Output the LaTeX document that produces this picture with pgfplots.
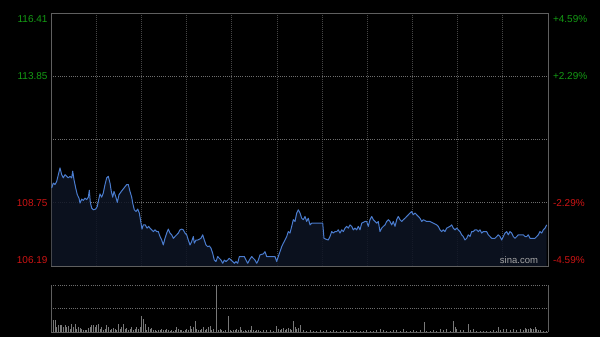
\documentclass[border=0pt]{standalone}
\usepackage{pgfplots}
\pgfplotsset{compat=1.18}
\usepackage{pgfplotstable}
\usepackage{fontspec}
\setmainfont{Liberation Sans}
\definecolor{sgreen}{RGB}{20,155,20}
\definecolor{sred}{RGB}{205,20,20}
\definecolor{sline}{RGB}{74,124,206}
\definecolor{sfill}{RGB}{14,20,36}
\definecolor{sborder}{RGB}{95,95,95}
\definecolor{sgridv}{RGB}{70,70,70}
\definecolor{sgridh}{RGB}{110,110,110}
\definecolor{svol}{RGB}{120,120,120}
\definecolor{swm}{RGB}{165,165,165}

\pgfplotstableread{
x p
0.7 109.34
2.3 109.54
4.0 109.48
5.7 109.61
9.0 110.15
10.7 109.88
12.3 109.75
14.0 109.88
15.7 109.81
17.3 109.75
19.0 109.81
20.7 109.75
21.7 110.02
23.0 109.68
24.7 109.34
26.3 109.07
28.0 108.93
29.0 108.73
30.7 108.89
32.3 108.84
34.0 108.93
35.7 108.87
37.3 108.97
38.3 109.25
39.3 108.76
40.7 108.53
42.3 108.46
44.7 108.49
46.3 108.60
47.7 108.87
49.0 109.10
50.7 108.97
52.3 109.14
54.0 109.48
55.7 109.75
57.3 109.81
59.0 109.54
60.3 109.20
61.7 108.97
63.0 109.20
64.7 109.00
66.3 108.76
68.0 109.07
70.3 109.20
73.0 109.34
75.7 109.48
77.3 109.48
79.0 109.20
80.7 108.97
81.7 108.73
83.3 108.46
85.0 108.39
86.7 108.49
88.3 108.33
90.0 107.92
91.0 107.68
92.3 107.85
94.3 107.85
96.0 107.72
97.7 107.79
99.0 107.72
100.7 107.65
102.3 107.58
104.0 107.65
105.7 107.58
107.3 107.58
109.0 107.38
110.7 107.24
112.3 107.04
114.0 107.31
115.7 107.52
117.3 107.68
119.0 107.52
120.7 107.45
122.3 107.31
124.0 107.38
125.7 107.45
127.3 107.52
129.0 107.65
130.7 107.68
132.3 107.65
134.0 107.52
135.7 107.45
137.3 107.24
139.0 107.04
140.7 107.18
142.3 107.38
143.3 107.11
145.0 107.24
146.7 107.24
148.3 107.27
150.0 107.31
151.7 107.45
153.3 107.24
155.0 107.04
156.7 106.97
158.3 107.00
160.0 106.91
161.7 106.70
163.3 106.43
165.0 106.37
166.7 106.57
168.3 106.50
170.0 106.43
171.7 106.30
173.3 106.43
175.0 106.37
176.7 106.43
178.3 106.50
180.0 106.43
181.7 106.37
183.3 106.30
185.0 106.37
186.7 106.30
188.3 106.57
190.0 106.57
193.3 106.57
195.0 106.43
196.7 106.30
198.3 106.43
200.7 106.57
202.3 106.50
204.0 106.43
205.7 106.30
207.3 106.43
209.0 106.64
210.7 106.66
212.3 106.68
214.0 106.77
215.7 106.57
217.3 106.57
220.7 106.57
224.0 106.57
225.7 106.37
227.3 106.57
229.0 106.77
230.7 106.97
232.3 107.11
234.0 107.24
235.7 107.38
237.3 107.58
239.0 107.52
240.7 107.79
242.3 108.06
244.0 107.99
245.7 108.33
247.3 108.46
249.0 108.33
250.7 108.12
252.3 108.06
254.0 108.19
255.7 107.99
257.3 108.12
259.0 107.85
260.7 107.92
262.3 107.92
271.7 107.92
273.0 107.31
275.0 107.27
277.3 107.24
279.0 107.38
280.7 107.58
282.3 107.52
284.0 107.58
285.7 107.58
287.3 107.65
289.0 107.52
290.7 107.65
292.3 107.58
294.0 107.72
295.7 107.79
297.3 107.72
299.0 107.85
300.7 107.79
302.3 107.65
304.0 107.72
305.7 107.65
307.3 107.79
309.0 107.65
310.7 107.92
314.0 107.99
315.7 107.99
317.3 107.79
319.0 108.06
320.7 108.19
322.3 108.06
324.0 107.99
325.7 107.92
327.3 107.99
329.0 107.58
330.7 107.72
332.3 107.79
334.0 107.85
335.7 107.99
337.3 108.06
339.0 107.99
340.7 107.85
342.3 107.99
344.0 107.79
345.7 108.06
347.3 108.19
349.0 108.06
350.7 107.99
352.3 108.06
354.0 108.12
355.7 108.19
357.3 108.26
359.0 108.33
360.7 108.39
362.3 108.26
364.0 108.33
365.7 108.26
367.3 108.19
369.0 108.12
370.7 107.99
372.3 108.06
375.7 107.99
379.0 107.99
382.3 107.92
385.7 107.85
387.3 107.79
389.0 107.65
390.7 107.58
392.3 107.65
394.0 107.58
395.7 107.72
399.0 107.79
400.7 107.85
402.3 107.72
404.0 107.65
405.7 107.72
407.3 107.65
409.0 107.58
410.7 107.45
412.3 107.38
414.0 107.24
415.7 107.31
417.3 107.45
419.0 107.38
420.7 107.58
422.3 107.58
424.0 107.65
425.7 107.65
427.3 107.58
429.0 107.65
430.7 107.52
432.3 107.58
435.7 107.58
437.3 107.45
439.0 107.38
440.7 107.31
444.0 107.31
445.7 107.38
447.3 107.45
449.0 107.38
450.7 107.24
452.3 107.38
454.0 107.52
455.7 107.58
457.3 107.45
459.0 107.58
460.7 107.52
462.3 107.38
464.0 107.31
465.7 107.38
467.3 107.45
472.3 107.45
474.0 107.38
475.7 107.38
477.3 107.45
479.0 107.31
484.0 107.31
485.7 107.38
487.3 107.45
489.0 107.58
490.7 107.52
492.3 107.65
494.0 107.72
495.7 107.85
}\pricetable

\pgfplotstableread{
x v
155 68
160 37
165 37
170 15
175 20
180 20
185 22
190 15
195 20
200 15
205 17
210 10
215 23
220 15
225 25
230 10
235 15
240 13
245 10
250 5
255 7
260 5
265 13
270 15
275 20
280 22
285 15
290 20
295 23
300 10
305 15
310 7
315 10
320 20
325 15
330 7
335 10
340 13
345 10
350 7
355 23
360 10
365 15
370 23
375 10
380 13
385 7
390 10
395 15
400 5
405 10
410 15
415 10
420 15
425 47
430 40
435 25
440 5
445 15
450 10
455 13
460 5
465 7
470 3
475 5
480 7
485 10
490 7
495 5
500 10
505 5
510 3
515 7
520 3
525 5
530 15
535 10
540 7
545 5
550 3
555 5
560 10
565 5
570 17
575 10
580 15
585 32
590 10
595 5
600 7
605 10
610 15
615 7
620 10
625 15
630 17
635 7
640 10
648 140
655 7
660 10
665 5
670 3
675 5
685 47
690 5
695 3
700 5
705 7
710 10
715 5
720 15
725 7
730 3
735 5
740 3
745 5
750 7
755 17
760 5
765 3
770 5
775 7
780 3
790 5
800 7
810 5
820 3
830 17
835 10
840 5
845 10
850 13
855 7
860 10
865 13
870 10
875 7
880 33
885 15
890 10
895 13
900 20
910 5
920 3
930 5
940 4
950 3
960 5
970 3
980 6
990 4
1000 5
1010 3
1020 4
1030 5
1040 3
1050 5
1060 3
1070 4
1080 4
1090 3
1100 5
1110 4
1120 3
1130 5
1140 8
1150 5
1160 4
1170 3
1180 5
1190 7
1200 3
1210 8
1220 4
1230 3
1240 5
1250 3
1260 5
1272 30
1280 3
1290 4
1300 5
1310 3
1320 8
1330 6
1340 10
1350 3
1360 33
1365 15
1370 8
1380 5
1390 6
1405 25
1410 5
1420 8
1430 3
1440 4
1450 3
1460 4
1470 3
1480 5
1490 4
1495 15
1500 5
1510 8
1520 10
1530 6
1540 8
1550 5
1560 10
1570 6
1575 12
1580 8
1585 10
1590 12
1595 8
1600 10
1605 14
1610 8
1615 6
1620 5
1630 4
1640 3
}\voltable

\begin{document}
\begin{tikzpicture}
\fill[black] (0pt,0pt) rectangle (600pt,337pt);
\useasboundingbox (0pt,0pt) rectangle (600pt,337pt);
% main price panel
\begin{axis}[
  at={(51pt,71pt)}, anchor=south west, scale only axis,
  width=497pt, height=253pt,
  xmin=0, xmax=497, ymin=106.19, ymax=116.41,
  axis line style={sborder, line width=0.8pt},
  xtick={45.18,90.36,135.55,180.73,225.91,271.09,316.27,361.45,406.64,451.82},
  xticklabels={},
  ytick={106.19,108.75,111.30,113.85,116.41},
  yticklabels={
    \raisebox{2.4pt}[0pt][0pt]{\textcolor{sred}{106.19}},
    \raisebox{-3.6pt}[0pt][0pt]{\textcolor{sred}{108.75}},
    {},
    \raisebox{-3.6pt}[0pt][0pt]{\textcolor{sgreen}{113.85}},
    \raisebox{-9.1pt}[0pt][0pt]{\textcolor{sgreen}{116.41}}},
  yticklabel style={font=\fontsize{10}{12}\selectfont, anchor=east},
  major tick length=0pt,
  xmajorgrids, ymajorgrids,
  major x grid style={sgridv, line width=0.7pt, dash pattern=on 1pt off 1pt},
  major y grid style={sgridh, line width=0.7pt, dash pattern=on 1pt off 1.2pt},
]
\addplot[draw=none, fill=sfill, fill opacity=0.85] table[x=x,y=p] {\pricetable} \closedcycle;
\addplot[sline, line width=1pt, line join=round] table[x=x,y=p] {\pricetable};
\node[text=swm, font=\fontsize{9.5}{11}\selectfont] at (axis cs:468,106.41) {sina.com};
\end{axis}
% right percentage axis
\begin{axis}[
  at={(51pt,71pt)}, anchor=south west, scale only axis,
  width=497pt, height=253pt,
  xmin=0, xmax=497, ymin=-4.59, ymax=4.59,
  axis x line=none, axis y line*=right,
  axis line style={sborder, line width=0.8pt},
  ytick={-4.59,-2.29,2.29,4.59},
  yticklabels={
    \raisebox{2.4pt}[0pt][0pt]{\textcolor{sred}{-4.59\%}},
    \raisebox{-3.6pt}[0pt][0pt]{\textcolor{sred}{-2.29\%}},
    \raisebox{-3.6pt}[0pt][0pt]{\textcolor{sgreen}{+2.29\%}},
    \raisebox{-9.1pt}[0pt][0pt]{\textcolor{sgreen}{+4.59\%}}},
  yticklabel style={font=\fontsize{10}{12}\selectfont, anchor=west, xshift=1.5pt},
  major tick length=0pt,
]
\end{axis}
% volume panel
\begin{axis}[
  at={(51pt,5pt)}, anchor=south west, scale only axis,
  width=497pt, height=47pt,
  xmin=153, xmax=1644, ymin=0, ymax=140,
  axis line style={draw=none},
  xtick=\empty, ytick={70,140}, yticklabels={},
  major tick length=0pt,
  ymajorgrids,
  major y grid style={sgridh, line width=0.7pt, dash pattern=on 1pt off 1.2pt},
  clip=false,
]
\addplot[ycomb, svol, line width=0.7pt] table[x=x,y=v] {\voltable};
\draw[sborder, line width=0.8pt] (rel axis cs:0,0) -- (rel axis cs:0,1);
\draw[sborder, line width=0.8pt] (rel axis cs:1,0) -- (rel axis cs:1,1);
\draw[sborder, line width=0.6pt] (rel axis cs:0,0) -- (rel axis cs:1,0);
\end{axis}
\end{tikzpicture}
\end{document}
